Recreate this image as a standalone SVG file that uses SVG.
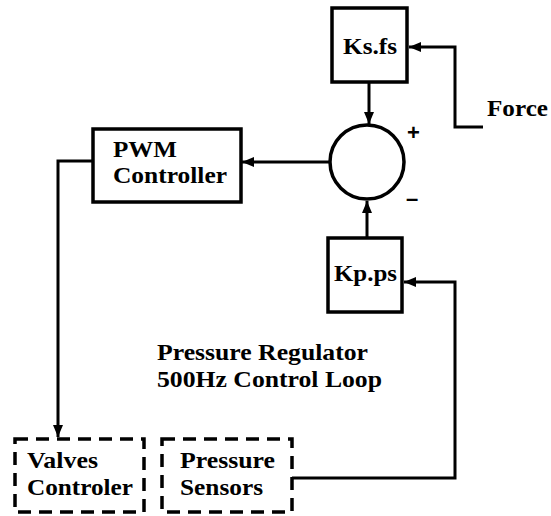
<svg xmlns="http://www.w3.org/2000/svg" width="551" height="516" viewBox="0 0 551 516">
<defs>
<marker id="ah" viewBox="0 0 12 10" refX="12" refY="5" markerWidth="12" markerHeight="10" markerUnits="userSpaceOnUse" orient="auto">
<path d="M0,0 L12,5 L0,10 Z" fill="#000"/>
</marker>
<style>
.box{fill:#fff;stroke:#000;stroke-width:3.5}
.dash{fill:none;stroke:#000;stroke-width:3.5;stroke-dasharray:13 8}
.ln{fill:none;stroke:#000;stroke-width:3}
text{font-family:"Liberation Serif","Times New Roman",serif;font-weight:bold;font-size:24px;fill:#000}
.sign{font-family:"Liberation Sans",Arial,sans-serif;font-size:22px}
</style>
</defs>
<rect width="551" height="516" fill="#fff"/>
<g id="connectors">
<path class="ln" d="M483,127 L455,127 L455,47 L409,47" marker-end="url(#ah)"/>
<path class="ln" d="M369,82 L369,124" marker-end="url(#ah)"/>
<path class="ln" d="M329,162 L242,162" marker-end="url(#ah)"/>
<path class="ln" d="M367,238 L367,201" marker-end="url(#ah)"/>
<path class="ln" d="M93,161 L58,161 L58,437" marker-end="url(#ah)"/>
<path class="ln" d="M292,478 L455,478 L455,282 L404,282" marker-end="url(#ah)"/>
</g>
<g id="ksfs">
<rect class="box" x="332" y="8" width="75" height="74"/>
<text x="343" y="54" textLength="54" lengthAdjust="spacingAndGlyphs">Ks.fs</text>
</g>
<g id="force">
<text x="487" y="116" textLength="61" lengthAdjust="spacingAndGlyphs">Force</text>
</g>
<g id="sum">
<circle cx="367" cy="162" r="37" fill="#fff" stroke="#000" stroke-width="3.5"/>
<text class="sign" x="407" y="140">+</text>
<text class="sign" x="406" y="206">–</text>
</g>
<g id="pwm">
<rect class="box" x="93" y="129" width="148" height="73"/>
<text x="113" y="157" textLength="64" lengthAdjust="spacingAndGlyphs">PWM</text>
<text x="113" y="183" textLength="114" lengthAdjust="spacingAndGlyphs">Controller</text>
</g>
<g id="kpps">
<rect class="box" x="328" y="238" width="74" height="74"/>
<text x="334" y="281" textLength="63" lengthAdjust="spacingAndGlyphs">Kp.ps</text>
</g>
<g id="title">
<text x="157" y="360" textLength="211" lengthAdjust="spacingAndGlyphs">Pressure Regulator</text>
<text x="157" y="387" textLength="225" lengthAdjust="spacingAndGlyphs">500Hz Control Loop</text>
</g>
<g id="valves">
<rect class="dash" x="15" y="439" width="129" height="73"/>
<text x="27" y="468" textLength="71" lengthAdjust="spacingAndGlyphs">Valves</text>
<text x="27" y="495" textLength="106" lengthAdjust="spacingAndGlyphs">Controler</text>
</g>
<g id="sensors">
<rect class="dash" x="162" y="439" width="130" height="73"/>
<text x="180" y="468" textLength="95" lengthAdjust="spacingAndGlyphs">Pressure</text>
<text x="180" y="495" textLength="83" lengthAdjust="spacingAndGlyphs">Sensors</text>
</g>
</svg>
